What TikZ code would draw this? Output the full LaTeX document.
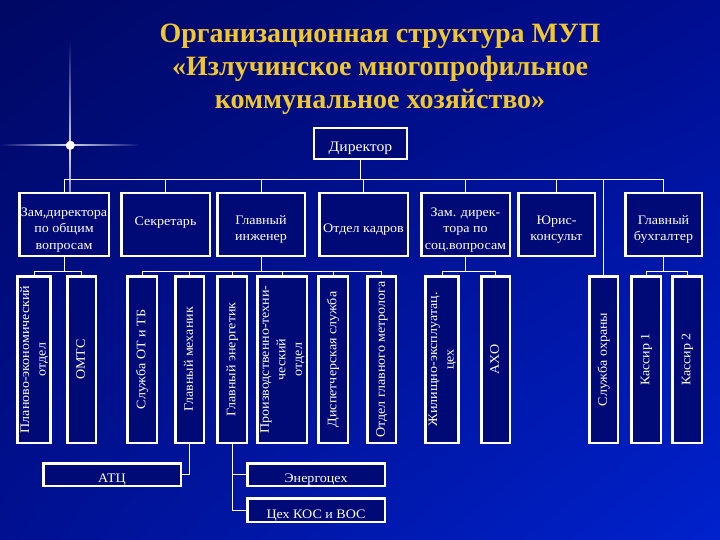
\documentclass[tikz,border=0pt]{standalone}
\usepackage{fontspec}
\usepackage{graphicx}
\setmainfont{Liberation Serif}[FakeStretch=1.08]
\newfontfamily\ttlfont{Liberation Serif}
\usetikzlibrary{fadings,shadings}
\definecolor{bgUL}{RGB}{0,8,100}
\definecolor{bgUR}{RGB}{0,14,145}
\definecolor{bgLL}{RGB}{0,16,145}
\definecolor{bgLR}{RGB}{0,34,205}
\definecolor{boxblue}{RGB}{0,10,118}
\definecolor{ttlgold}{RGB}{242,198,45}
\tikzfading[name=midv, top color=transparent!100, bottom color=transparent!100, middle color=transparent!15]
\tikzfading[name=midh, left color=transparent!100, right color=transparent!100, middle color=transparent!15]
\newcommand\vt[1]{\rotatebox{90}{\begin{tabular}{@{}c@{}}#1\end{tabular}}}
\newcommand\bt{\rule{0pt}{19pt}}
\begin{document}
\begin{tikzpicture}[x=1pt,y=-1pt,
  box/.style={draw=white, line width=2.5pt, fill=boxblue, text=white, inner sep=0pt, align=center,
    font=\fontsize{13}{16.5}\selectfont},
  conn/.style={draw=white, line width=1pt},
  ttl/.style={text=ttlgold, align=center, font=\ttlfont\bfseries\fontsize{28}{33}\selectfont}]
\useasboundingbox (0,0) rectangle (720,540);
\shade[upper left=bgUL, upper right=bgUR, lower left=bgLL, lower right=bgLR] (0,0) rectangle (720,540);
% lens flare
\fill[white, path fading=midv] (69.2,40) rectangle (70.8,260);
\fill[white, path fading=midh] (0,144.2) rectangle (140,145.8);
\fill[white, path fading=circle with fuzzy edge 20 percent] (70,145) circle (5);

\node[ttl] (title) at (380,69) {Организационная структура МУП\\«Излучинское многопрофильное\\коммунальное хозяйство»};

\node[box, minimum width=93, minimum height=31, font=\fontsize{14.5}{16.5}\selectfont] (dir) at (360.5,143.5) {\bt Директор};

% row 1
\node[box, minimum width=89.5, minimum height=62.5] (zd)  at (64,224.5) {\bt Зам,директора\\по общим\\вопросам};
\node[box, minimum width=88.5, minimum height=62.5] (sec) at (165.5,224.5) {\bt Секретарь\\ \mbox{}};
\node[box, minimum width=87.5, minimum height=62.5] (gi)  at (261,224.5) {\bt Главный\\инженер};
\node[box, minimum width=88.5, minimum height=62.5] (ok)  at (363.5,224.5) {\bt Отдел кадров};
\node[box, minimum width=88.5, minimum height=62.5] (zs)  at (465.5,224.5) {\bt Зам. дирек-\\тора по\\соц.вопросам};
\node[box, minimum width=76.5, minimum height=62.5] (yu)  at (556.5,224.5) {\bt Юрис-\\консульт};
\node[box, minimum width=76.5, minimum height=62.5] (gb)  at (663.5,224.5) {\bt Главный\\бухгалтер};

% row 2
\node[box, minimum width=29.5, minimum height=166.5] (pe)   at (34,359.5)   {\vt{Планово-экономический\\отдел}};
\node[box, minimum width=28.5, minimum height=166.5] (omts) at (81.5,359.5) {\vt{ОМТС}};
\node[box, minimum width=29.5, minimum height=166.5] (ot)   at (142,359.5)  {\vt{Служба ОТ и ТБ}};
\node[box, minimum width=28.5, minimum height=166.5] (mex)  at (189.5,359.5){\vt{Главный механик}};
\node[box, minimum width=29.5, minimum height=166.5] (en)   at (232,359.5)  {\vt{Главный энергетик}};
\node[box, minimum width=47.5, minimum height=166.5] (pto)  at (282,359.5)  {\vt{Производственно-техни-\\ческий\\отдел}};
\node[box, minimum width=29.5, minimum height=166.5] (disp) at (333,359.5)  {\vt{Диспетчерская служба}};
\node[box, minimum width=28.5, minimum height=166.5] (metr) at (381.5,359.5){\vt{Отдел главного метролога}};
\node[box, minimum width=29.5, minimum height=166.5] (jil)  at (442,359.5)  {\vt{Жилищно-эксплуатац.\\цех}};
\node[box, minimum width=28.5, minimum height=166.5] (axo)  at (495.5,359.5){\vt{АХО}};
\node[box, minimum width=28.5, minimum height=166.5] (ohr)  at (603.5,359.5){\vt{Служба охраны}};
\node[box, minimum width=29.5, minimum height=166.5] (k1)   at (646,359.5)  {\vt{Кассир 1}};
\node[box, minimum width=29.5, minimum height=166.5] (k2)   at (687,359.5)  {\vt{Кассир 2}};

% row 3
\node[box, minimum width=137.5, minimum height=22.5] (atc) at (112,474.5) {\bt АТЦ};
\node[box, minimum width=137.5, minimum height=22.5] (enc) at (316,474.5) {\bt Энергоцех};
\node[box, minimum width=137.5, minimum height=23.5] (kos) at (316,510)   {\bt Цех КОС и ВОС};

% connectors level 1
\draw[conn] (dir.south) -- (dir.south |- 0,180);
\draw[conn] (zd.north |- 0,180) -- (gb.north |- 0,180);
\foreach \n in {zd,sec,gi,ok,zs,yu,gb,ohr} \draw[conn] (\n.north) -- (\n.north |- 0,180);

% connectors level 2
\draw[conn] (zd.south) -- (zd.south |- 0,271);
\draw[conn] (pe.north) -- (pe.north |- 0,271) -| (omts.north);
\draw[conn] (gi.south) -- (gi.south |- 0,271);
\draw[conn] (ot.north) -- (ot.north |- 0,271) -| (metr.north);
\foreach \n in {mex,en,pto,disp} \draw[conn] (\n.north) -- (\n.north |- 0,271);
\draw[conn] (zs.south) -- (zs.south |- 0,271);
\draw[conn] (jil.north) -- (jil.north |- 0,271) -| (axo.north);
\draw[conn] (gb.south) -- (gb.south |- 0,271);
\draw[conn] (k1.north) -- (k1.north |- 0,271) -| (k2.north);

% connectors level 3
\draw[conn] (mex.south) |- (atc.east);
\draw[conn] (en.south) |- (kos.west);
\draw[conn] (en.south |- enc.west) -- (enc.west);
\end{tikzpicture}
\end{document}
